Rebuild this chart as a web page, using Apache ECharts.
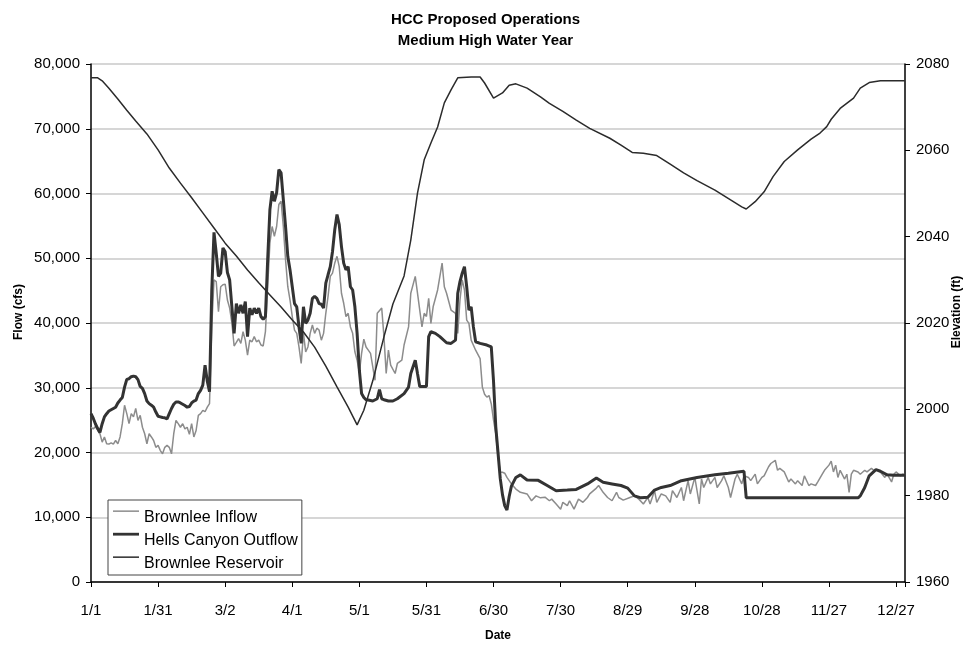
<!DOCTYPE html>
<html>
<head>
<meta charset="utf-8">
<script src="https://cdn.jsdelivr.net/npm/echarts@6/dist/echarts.min.js"></script>
<style>
html,body{margin:0;padding:0;background:#fff;}
#chart{width:971px;height:649px;}
</style>
</head>
<body>
<div id="chart"></div>
<script>
// Day-of-year tick labels (every 30 days from Jan 1)
const xTickLabels = ['1/1','1/31','3/2','4/1','5/1','5/31','6/30','7/30','8/29','9/28','10/28','11/27','12/27'];
const seriesNames = ['Brownlee Inflow','Hells Canyon Outflow','Brownlee Reservoir'];

// [day index, flow cfs]
const inflowData = [
[0,23900],[1,23650],[2,24000],[3,23400],[4,22900],[5,21600],[6,22400],[7,21350],[8,21300],[9,21500],[10,21300],[11,21850],[12,21350],[13,22400],[14,24450],[15,27300],[16,26000],[17,24450],[18,26000],[19,25500],[20,26800],[21,24950],[22,25750],[23,23900],[24,22900],[25,21350],[26,22900],[27,22400],[28,21850],[29,20800],[30,21100],[31,20300],[32,19800],[33,20800],[34,21100],[35,20800],[36,19800],[37,22900],[38,24950],[39,24450],[40,23900],[41,24450],[42,23650],[43,23900],[44,22800],[45,24450],[46,22400],[47,23400],[48,25750],[49,26000],[50,26500],[51,26300],[52,27000],[53,27550],[54,39400],[55,46650],[56,46400],[57,41750],[58,45600],[59,45900],[60,46000],[61,43550],[62,42300],[63,40000],[64,36450],[65,37000],[66,37600],[67,36850],[68,38650],[69,37350],[70,35050],[71,37350],[72,37100],[73,37900],[74,37100],[75,37350],[76,36600],[77,36450],[78,38650],[79,45600],[80,52350],[81,54900],[82,53400],[83,54900],[84,58300],[85,58800],[86,54900],[87,49750],[88,45600],[89,43550],[90,41000],[91,38900],[92,38400],[93,36300],[94,33750],[95,38400],[96,35550],[97,36300],[98,38400],[99,39700],[100,38400],[101,39200],[102,38900],[103,37350],[104,38400],[105,41500],[106,44100],[107,47200],[108,47700],[109,49250],[110,50300],[111,48700],[112,44600],[113,43050],[114,41000],[115,41500],[116,39400],[117,38400],[118,35550],[119,34250],[120,32300],[121,35300],[122,37500],[123,36300],[124,35800],[125,35300],[127,31150],[128,41500],[130,42300],[131,37900],[132,32200],[133,35800],[134,33500],[136,32200],[137,33750],[139,34250],[140,36600],[142,39400],[143,44600],[145,47200],[146,44600],[148,39400],[149,41500],[150,41000],[151,43800],[152,39950],[153,42500],[155,45100],[157,49250],[158,45600],[159,44600],[161,42000],[163,41500],[164,38400],[165,43550],[166,46650],[167,45100],[168,40450],[169,39950],[170,37350],[172,35800],[174,34500],[175,30100],[176,29000],[177,28550],[178,28800],[179,27500],[180,25000],[181,22900],[182,19500],[183,17000],[184,16950],[185,16800],[186,16150],[188,15150],[190,14350],[192,13850],[195,13600],[197,12550],[199,13300],[201,13000],[203,13100],[205,12550],[206,12800],[208,12050],[210,11250],[211,12300],[213,11800],[214,12550],[216,11250],[218,12800],[220,12300],[222,13050],[223,13600],[226,14500],[227,14900],[229,13850],[231,13050],[233,12550],[235,13850],[236,13050],[238,12650],[241,13050],[243,13300],[245,12800],[247,12050],[249,13050],[250,12050],[252,14100],[253,12300],[255,13600],[257,13300],[259,12300],[260,14100],[262,13050],[264,14600],[265,12550],[267,15650],[268,13600],[270,16150],[272,12050],[273,15900],[274,14600],[276,16150],[277,15150],[279,16150],[280,14600],[282,15650],[283,16400],[285,14600],[286,13050],[288,15900],[289,16650],[291,15150],[292,16400],[294,16150],[295,15650],[297,16650],[298,15150],[300,16150],[301,16400],[303,17800],[304,18300],[306,18800],[307,17250],[308,17550],[310,17000],[312,15450],[313,15900],[315,15150],[316,15650],[318,14900],[319,16400],[321,14900],[322,15150],[324,14900],[325,15450],[327,16650],[328,17250],[330,18050],[331,18650],[332,17000],[333,18050],[334,16150],[335,17250],[337,15900],[338,16650],[339,13850],[340,16650],[341,17250],[343,17000],[344,16650],[346,17250],[347,17000],[349,17550],[350,17250],[352,17250],[353,17000],[355,16150],[356,16650],[358,15450],[359,16650],[360,17000],[362,16400],[363,16650],[364,16550]
];

// [day index, flow cfs]
const outflowData = [
[0,26000],[1,25300],[2,24400],[3,23700],[4,23100],[5,24450],[6,25500],[7,26000],[8,26400],[9,26600],[10,26800],[11,27000],[12,27650],[13,28100],[14,28500],[15,30100],[16,31300],[17,31400],[18,31700],[19,31800],[20,31700],[21,31250],[22,30200],[23,29900],[24,29100],[25,27950],[26,27550],[27,27300],[28,27000],[29,26250],[30,25600],[31,25500],[32,25400],[33,25350],[34,25200],[35,26000],[36,26800],[37,27450],[38,27800],[39,27800],[40,27650],[41,27450],[42,27250],[43,27000],[44,27100],[45,27650],[46,27950],[47,28100],[48,29100],[49,29600],[50,30400],[51,33500],[52,31000],[53,29400],[54,45000],[55,54000],[56,50800],[57,47200],[58,47700],[59,51600],[60,51000],[61,47800],[62,46650],[63,42500],[64,38400],[65,43000],[66,41500],[67,42800],[68,41500],[69,43300],[70,37900],[71,42300],[72,41250],[73,42300],[74,41500],[75,42300],[76,41000],[77,40550],[78,41000],[79,49750],[80,57500],[81,60350],[82,58800],[83,60100],[84,63700],[85,63200],[86,59050],[87,54900],[88,50300],[89,48200],[90,45600],[91,43000],[92,42500],[93,39400],[94,36850],[95,42500],[96,39950],[97,40450],[98,41500],[99,43800],[100,44100],[101,43800],[102,43000],[103,42900],[104,42300],[105,46150],[106,47450],[107,48700],[108,51050],[109,54400],[110,56750],[111,55200],[112,51800],[113,49250],[114,48200],[115,48700],[116,45600],[117,45100],[118,42500],[119,38400],[120,32700],[121,29100],[122,28500],[123,28150],[124,28100],[126,27950],[128,28300],[129,29700],[130,28300],[131,28150],[133,27950],[135,27950],[137,28300],[140,29100],[142,30100],[143,32200],[145,34250],[146,32200],[147,30200],[150,30200],[151,37900],[152,38650],[154,38400],[156,37900],[159,36950],[161,36850],[163,37350],[164,44600],[165,46400],[166,47700],[167,48700],[168,45600],[169,42000],[170,42500],[171,39400],[172,37100],[174,36850],[177,36600],[179,36300],[180,31000],[181,24000],[182,20000],[183,16000],[184,13500],[185,11800],[186,11100],[187,13200],[188,14800],[190,16150],[192,16550],[195,15750],[200,15700],[204,14900],[208,14100],[213,14200],[217,14300],[222,15150],[226,16050],[229,15400],[233,15150],[237,14900],[240,14500],[243,13300],[246,13000],[249,13100],[252,14200],[255,14600],[259,14900],[264,15650],[271,16150],[279,16550],[285,16800],[292,17100],[293,13000],[343,13000],[344,13300],[346,14600],[348,16400],[351,17350],[353,17100],[356,16550],[359,16500],[364,16500]
];

// [day index, elevation ft]
const reservoirData = [
[0,2076.8],[3,2076.8],[5,2076.1],[8,2074.4],[12,2071.9],[16,2069.3],[20,2066.8],[25,2063.8],[30,2060.1],[35,2055.9],[40,2052.4],[45,2049.0],[50,2045.5],[55,2042.0],[60,2038.5],[65,2035.5],[70,2032.3],[75,2029.3],[80,2026.5],[85,2023.7],[90,2020.7],[95,2017.9],[100,2014.4],[105,2010.0],[110,2005.2],[115,2000.5],[119,1996.4],[122,1999.8],[126,2006.6],[131,2016.8],[135,2024.4],[140,2030.9],[143,2039.2],[146,2050.1],[149,2057.8],[152,2061.7],[155,2065.4],[158,2071.0],[161,2074.0],[164,2076.8],[170,2077.0],[174,2077.0],[176,2075.6],[180,2072.1],[184,2073.3],[187,2075.1],[190,2075.4],[195,2074.4],[201,2072.4],[205,2070.9],[211,2069.0],[217,2067.0],[223,2065.1],[232,2062.8],[237,2061.2],[242,2059.5],[247,2059.3],[253,2058.8],[259,2056.8],[265,2054.8],[271,2053.0],[279,2050.8],[286,2048.5],[291,2046.9],[293,2046.4],[297,2048.1],[301,2050.4],[305,2053.9],[310,2057.4],[316,2060.1],[322,2062.6],[326,2064.0],[329,2065.5],[331,2067.2],[335,2069.7],[341,2072.1],[344,2074.4],[348,2075.7],[353,2076.1],[359,2076.1],[364,2076.1]
];

const FONT = '"Liberation Sans", Arial, sans-serif';
const chart = echarts.init(document.getElementById('chart'), null, {renderer: 'canvas'});

// legend icons: a line segment near the top of a 26x20 box (bounding points fix the box)
const thinIcon = 'path://M0,0L0,0M26,20L26,20M0,2.4L26,2.4L26,3.9L0,3.9Z';
const thickIcon = 'path://M0,0L0,0M26,20L26,20M0,1.8L26,1.8L26,4.6L0,4.6Z';

const option = {
  backgroundColor: '#ffffff',
  animation: false,
  textStyle: {fontFamily: FONT},
  title: {
    text: 'HCC Proposed Operations\nMedium High Water Year',
    left: 'center',
    top: 4,
    textStyle: {fontFamily: FONT, fontSize: 15, fontWeight: 'bold', color: '#000', lineHeight: 21}
  },
  grid: {left: 91, right: 66, top: 64, bottom: 67, containLabel: false, outerBoundsMode: 'none'},
  legend: {
    orient: 'vertical',
    left: 108,
    top: 500,
    padding: [8, 4, 1, 5],
    itemGap: 3,
    itemWidth: 26,
    itemHeight: 20,
    borderColor: '#444',
    borderWidth: 1,
    backgroundColor: '#fff',
    textStyle: {fontFamily: FONT, fontSize: 16, color: '#000'},
    data: [
      {name: seriesNames[0], icon: thinIcon},
      {name: seriesNames[1], icon: thickIcon},
      {name: seriesNames[2], icon: thinIcon}
    ]
  },
  xAxis: {
    type: 'value',
    min: 0,
    max: 364,
    interval: 30,
    name: 'Date',
    nameLocation: 'middle',
    nameGap: 48,
    nameMoveOverlap: false,
    nameTextStyle: {fontFamily: FONT, fontSize: 12, fontWeight: 'bold', color: '#000'},
    axisLine: {show: true, lineStyle: {color: '#000', width: 1.5}},
    axisTick: {show: true, length: 5, lineStyle: {color: '#000'}},
    axisLabel: {
      margin: 21,
      fontFamily: FONT, fontSize: 15, color: '#000',
      formatter: function (v) { return (v % 30 === 0) ? (xTickLabels[v / 30] || '') : ''; }
    },
    splitLine: {show: false}
  },
  yAxis: [
    {
      type: 'value',
      min: 0, max: 80000, interval: 10000,
      name: 'Flow (cfs)',
      nameLocation: 'middle',
      nameGap: 66,
      nameRotate: 90,
      nameMoveOverlap: false,
      nameTextStyle: {fontFamily: FONT, fontSize: 12, fontWeight: 'bold', color: '#000', padding: [0, 0, 0, 22]},
      axisLine: {show: true, lineStyle: {color: '#000', width: 1.5}},
      axisTick: {show: true, length: 5, lineStyle: {color: '#000'}},
      axisLabel: {
        margin: 11, fontFamily: FONT, fontSize: 15, color: '#000', padding: [5, 0, 0, 0],
        formatter: function (v) { return v.toLocaleString('en-US'); }
      },
      splitLine: {show: true, lineStyle: {color: '#c8c8c8', width: 1.5}}
    },
    {
      type: 'value',
      min: 1960, max: 2080, interval: 20,
      name: 'Elevation (ft)',
      nameLocation: 'middle',
      nameGap: 46,
      nameRotate: 90,
      nameMoveOverlap: false,
      nameTextStyle: {fontFamily: FONT, fontSize: 12, fontWeight: 'bold', color: '#000', padding: [0, 0, 0, 22]},
      position: 'right',
      axisLine: {show: true, lineStyle: {color: '#000', width: 1.5}},
      axisTick: {show: true, length: 5, lineStyle: {color: '#000'}},
      axisLabel: {
        margin: 11, fontFamily: FONT, fontSize: 15, color: '#000', padding: [5, 0, 0, 0],
        formatter: function (v) { return String(v); }
      },
      splitLine: {show: false}
    }
  ],
  series: [
    {
      name: seriesNames[0], type: 'line', yAxisIndex: 0,
      data: inflowData, showSymbol: false, symbol: 'none',
      lineStyle: {color: '#8c8c8c', width: 1.5},
      itemStyle: {color: '#8c8c8c'}, z: 2
    },
    {
      name: seriesNames[1], type: 'line', yAxisIndex: 0,
      data: outflowData, showSymbol: false, symbol: 'none',
      lineStyle: {color: '#333333', width: 3},
      itemStyle: {color: '#333333'}, z: 3
    },
    {
      name: seriesNames[2], type: 'line', yAxisIndex: 1,
      data: reservoirData, showSymbol: false, symbol: 'none',
      lineStyle: {color: '#2b2b2b', width: 1.5},
      itemStyle: {color: '#2b2b2b'}, z: 4
    }
  ]
};
chart.setOption(option);
</script>
</body>
</html>
